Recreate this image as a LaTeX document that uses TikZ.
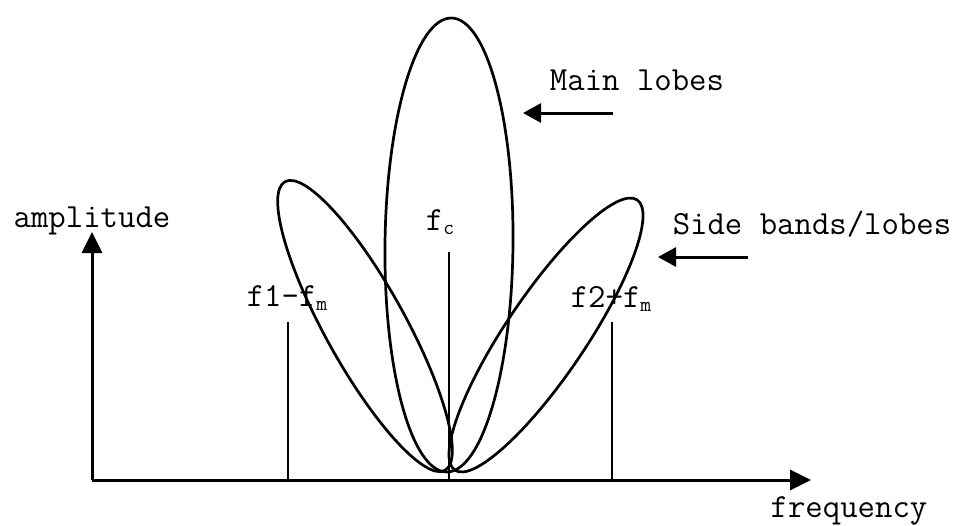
\documentclass[tikz,border=0pt]{standalone}
\usepackage{fontspec}
\usetikzlibrary{arrows.meta}
\newcommand\lowidx[1]{\raisebox{-0.3ex}{\fontsize{21}{21}\selectfont #1}}
\tikzset{
  lbl/.style={font=\ttfamily\fontsize{33.8}{34}\selectfont, inner sep=0pt},
  axis/.style={line width=3pt, -{Triangle[length=21pt,width=20pt]}},
  pointer/.style={line width=3pt, -{Triangle[length=18pt,width=19pt]}},
  lobe/.style={line width=2.7pt},
  tick/.style={line width=2.6pt}
}
\begin{document}
\begin{tikzpicture}[x=1pt,y=-1pt]
\useasboundingbox (0,0) rectangle (960,525);
% axes
\coordinate (O) at (92,480);
\coordinate (Ytip) at (92,232);
\coordinate (Xtip) at (811,480);
\draw[axis] (O) -- (Ytip);
\draw[axis] (O) -- (Xtip);
% lobes
\coordinate (M) at (449,245);
\coordinate (L) at (365,326);
\coordinate (R) at (546,335);
\draw[lobe, rotate around={-0.6:(M)}] (M) ellipse [x radius=64, y radius=227];
\draw[lobe, rotate around={119:(L)}] (L) ellipse [x radius=165, y radius=40];
\draw[lobe, rotate around={56:(R)}] (R) ellipse [x radius=163, y radius=40];
% frequency markers
\coordinate (f1top) at (288,322);
\coordinate (f1bot) at (288,480);
\coordinate (fctop) at (449,252);
\coordinate (fcbot) at (449,480);
\coordinate (f2top) at (612,322);
\coordinate (f2bot) at (612,480);
\draw[tick] (f1top) -- (f1bot);
\draw[tick] (fctop) -- (fcbot);
\draw[tick] (f2top) -- (f2bot);
% labels
\node[lbl] (amp) at (92,221) {amplitude};
\node[lbl] (freq) at (849,511) {frequency};
\node[lbl] (fc) at (440,222) {f\lowidx{c}};
\node[lbl] (f1) at (287,298) {f1-f\lowidx{m}};
\node[lbl] (f2) at (611,299) {f2+f\lowidx{m}};
\node[lbl] (main) at (637,80) {Main lobes};
\node[lbl] (side) at (812,224) {Side bands/lobes};
% pointer arrows
\coordinate (mainA) at (613,113);
\coordinate (mainB) at (523,113);
\coordinate (sideA) at (748,257);
\coordinate (sideB) at (658,257);
\draw[pointer] (mainA) -- (mainB);
\draw[pointer] (sideA) -- (sideB);
\end{tikzpicture}
\end{document}
